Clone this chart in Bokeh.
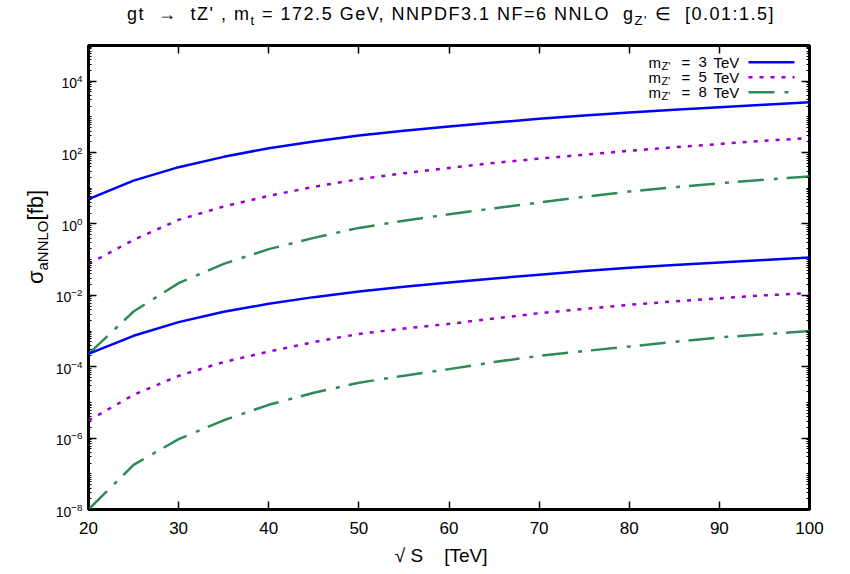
from bokeh.plotting import figure
from bokeh.models import (FixedTicker, LogTickFormatter, LogAxis, LinearAxis, Label,
                          Arrow, CustomJSTickFormatter, Range1d, Div)
from bokeh.layouts import column, row
from bokeh.embed import file_html
from bokeh.resources import INLINE

# ---------------- data ----------------
sqrt_s = [20, 25, 30, 35, 40, 45, 50, 55, 60, 65, 70, 75, 80, 85, 90, 95, 100]

# g_Z' = 1.5 (upper family)
sigma_3tev_hi = [4.95, 16.4, 39.0, 75.9, 133, 204, 302, 407, 537, 692, 891, 1096, 1318, 1585, 1862, 2188, 2570]
sigma_5tev_hi = [0.0759, 0.358, 1.30, 3.09, 6.12, 11.0, 18.0, 26.3, 37.2, 51.3, 67.6, 87.1, 112, 141, 174, 214, 257]
sigma_8tev_hi = [2.29e-4, 3.52e-3, 0.022, 0.0759, 0.197, 0.407, 0.776, 1.23, 1.86, 2.75, 3.98, 5.75, 8.13, 10.7, 13.8, 17.4, 21.4]

# g_Z' = 0.01 (lower family)
sigma_3tev_lo = [2.29e-4, 7.35e-4, 1.78e-3, 3.47e-3, 5.78e-3, 8.91e-3, 0.0128, 0.0174, 0.0229, 0.0295, 0.0380, 0.0479, 0.0589, 0.0708, 0.0832, 0.0977, 0.115]
sigma_5tev_lo = [3.09e-6, 1.63e-5, 5.56e-5, 1.35e-4, 2.67e-4, 4.90e-4, 8.32e-4, 1.17e-3, 1.59e-3, 2.24e-3, 3.16e-3, 4.17e-3, 5.42e-3, 6.76e-3, 8.32e-3, 1.0e-2, 1.15e-2]
sigma_8tev_lo = [1.0e-8, 1.78e-7, 9.33e-7, 3.16e-6, 8.57e-6, 1.86e-5, 3.55e-5, 5.62e-5, 8.57e-5, 1.35e-4, 2.02e-4, 2.75e-4, 3.68e-4, 5.01e-4, 6.61e-4, 8.13e-4, 1.0e-3]

legend_masses = ["3", "5", "8"]
x_ticks = [20, 30, 40, 50, 60, 70, 80, 90, 100]
y_exponents_labelled = [-8, -6, -4, -2, 0, 2, 4]

# ---------------- style ----------------
FONT = "Liberation Sans"
BLUE = "#0000ff"
PURPLE = "#9400d3"
GREEN = "#2e8b57"
LW = 2.5
DOT = "4 7"
DASHDOT = "26 10 4 9"

TITLE_H = 30      # height of the title strip
YLAB_W = 52       # width of the y-label strip
FRAME_L, FRAME_B = 86, 509   # frame left / bottom in page pixels

def sx(X):
    return X - FRAME_L

def sy(Y):
    return FRAME_B - Y

fig_w, fig_h = 850 - YLAB_W, 572 - TITLE_H
p = figure(width=fig_w, height=fig_h,
           x_range=Range1d(20, 100), y_range=Range1d(1e-8, 1e5),
           y_axis_type="log", output_backend="svg", toolbar_location=None,
           min_border_left=FRAME_L - YLAB_W, min_border_right=41,
           min_border_top=45 - TITLE_H, min_border_bottom=fig_h - (FRAME_B - TITLE_H))

p.grid.visible = False
p.background_fill_color = "white"
p.border_fill_color = "white"
p.outline_line_color = "black"
p.outline_line_width = 3

major_y = [10.0 ** e for e in y_exponents_labelled]
minor_y = []
for e in range(-8, 5):
    for m in range(1, 10):
        if not (m == 1 and e in y_exponents_labelled):
            minor_y.append(m * 10.0 ** e)
yticker = FixedTicker(ticks=major_y, minor_ticks=minor_y)
xticker = FixedTicker(ticks=x_ticks, minor_ticks=[])

for ax in p.yaxis:
    ax.ticker = yticker
    ax.formatter = LogTickFormatter()
for ax in p.xaxis:
    ax.ticker = xticker

def style_axis(ax):
    ax.axis_line_color = None
    ax.major_tick_in = 8
    ax.major_tick_out = 0
    ax.minor_tick_in = 3
    ax.minor_tick_out = 0
    ax.major_tick_line_color = "black"
    ax.major_tick_line_width = 1.5
    ax.minor_tick_line_color = "black"
    ax.minor_tick_line_width = 1
    ax.major_label_text_font = FONT
    ax.major_label_text_color = "black"

for ax in p.xaxis + p.yaxis:
    style_axis(ax)
p.xaxis.major_label_text_font_size = "17px"
p.xaxis.major_label_standoff = 12
p.xaxis.axis_label = "\u221a\u00a0S\u00a0\u00a0\u00a0\u00a0[TeV]\u00a0\u00a0\u00a0"
p.xaxis.axis_label_text_font = FONT
p.xaxis.axis_label_text_font_size = "19px"
p.xaxis.axis_label_text_font_style = "normal"
p.xaxis.axis_label_text_color = "black"
p.xaxis.axis_label_standoff = 8
p.yaxis.major_label_text_font_size = "14px"
p.yaxis.major_label_standoff = 6

blank = CustomJSTickFormatter(code="return ''")
right_ax = LogAxis(ticker=yticker, formatter=blank)
style_axis(right_ax)
right_ax.major_label_text_font_size = "1px"
p.add_layout(right_ax, "right")
top_ax = LinearAxis(ticker=xticker, formatter=blank)
style_axis(top_ax)
top_ax.major_label_text_font_size = "1px"
top_ax.major_label_standoff = 0
p.add_layout(top_ax, "above")

# ---------------- curves ----------------
p.line(sqrt_s, sigma_3tev_hi, line_color=BLUE, line_width=LW)
p.line(sqrt_s, sigma_5tev_hi, line_color=PURPLE, line_width=LW, line_dash=DOT)
p.line(sqrt_s, sigma_8tev_hi, line_color=GREEN, line_width=LW, line_dash=DASHDOT)
p.line(sqrt_s, sigma_3tev_lo, line_color=BLUE, line_width=LW)
p.line(sqrt_s, sigma_5tev_lo, line_color=PURPLE, line_width=LW, line_dash=DOT)
p.line(sqrt_s, sigma_8tev_lo, line_color=GREEN, line_width=LW, line_dash=DASHDOT)

def lab(text, X, Y, size):
    p.add_layout(Label(x=sx(X), y=sy(Y), x_units="screen", y_units="screen", text=text,
                       text_font=FONT, text_font_size=size, text_color="black",
                       text_align="left", text_baseline="middle"))

# ---------------- legend (inside frame) ----------------
leg_rows = [61.7, 76.7, 91.7]
leg_style = [(BLUE, None), (PURPLE, DOT), (GREEN, DASHDOT)]
for mass, Y, (col, dash) in zip(legend_masses, leg_rows, leg_style):
    lab("m", 646, Y, "15px")
    lab("Z'", 659, Y + 4, "11px")
    lab("=", 679, Y, "15px")
    lab(mass, 696, Y, "15px")
    lab("TeV", 711, Y, "15px")
    kw = dict(line_color=col, line_width=LW)
    if dash:
        kw["line_dash"] = dash
    p.add_layout(Arrow(end=None, x_start=sx(746), y_start=sy(Y), x_end=sx(792), y_end=sy(Y),
                       start_units="screen", end_units="screen", **kw))

# ---------------- title and y label (HTML, for subscripts) ----------------
title_html = (
    "<div style=\"position:relative;width:850px;height:%dpx;\">"
    "<div style=\"position:absolute;left:127px;top:4px;white-space:nowrap;"
    "font-family:'Liberation Sans',sans-serif;font-size:18px;line-height:20px;color:black;letter-spacing:1.5px;\">"
    "gt &nbsp;\u2192 &nbsp;tZ' , m<sub style=\"font-size:13px;\">t</sub> = 172.5 GeV, NNPDF3.1 NF=6 NNLO &nbsp;"
    "g<sub style=\"font-size:13px;\">Z'</sub> \u2208 &nbsp;[0.01:1.5]"
    "</div></div>" % TITLE_H
)
title_div = Div(text=title_html, width=850, height=TITLE_H, margin=0)

ylab_html = (
    "<div style=\"position:relative;width:%dpx;height:%dpx;\">"
    "<div style=\"position:absolute;left:37px;top:%dpx;transform:translate(-50%%,-50%%) rotate(-90deg);"
    "white-space:nowrap;font-family:'Liberation Sans',sans-serif;font-size:22px;color:black;\">"
    "\u03c3<sub style=\"font-size:15px;\">aNNLO</sub>[fb]"
    "</div></div>" % (YLAB_W, fig_h, 237 - TITLE_H)
)
ylab_div = Div(text=ylab_html, width=YLAB_W, height=fig_h, margin=0)

layout = column(title_div, row(ylab_div, p))

open("out.html", "w").write(file_html(layout, INLINE))
